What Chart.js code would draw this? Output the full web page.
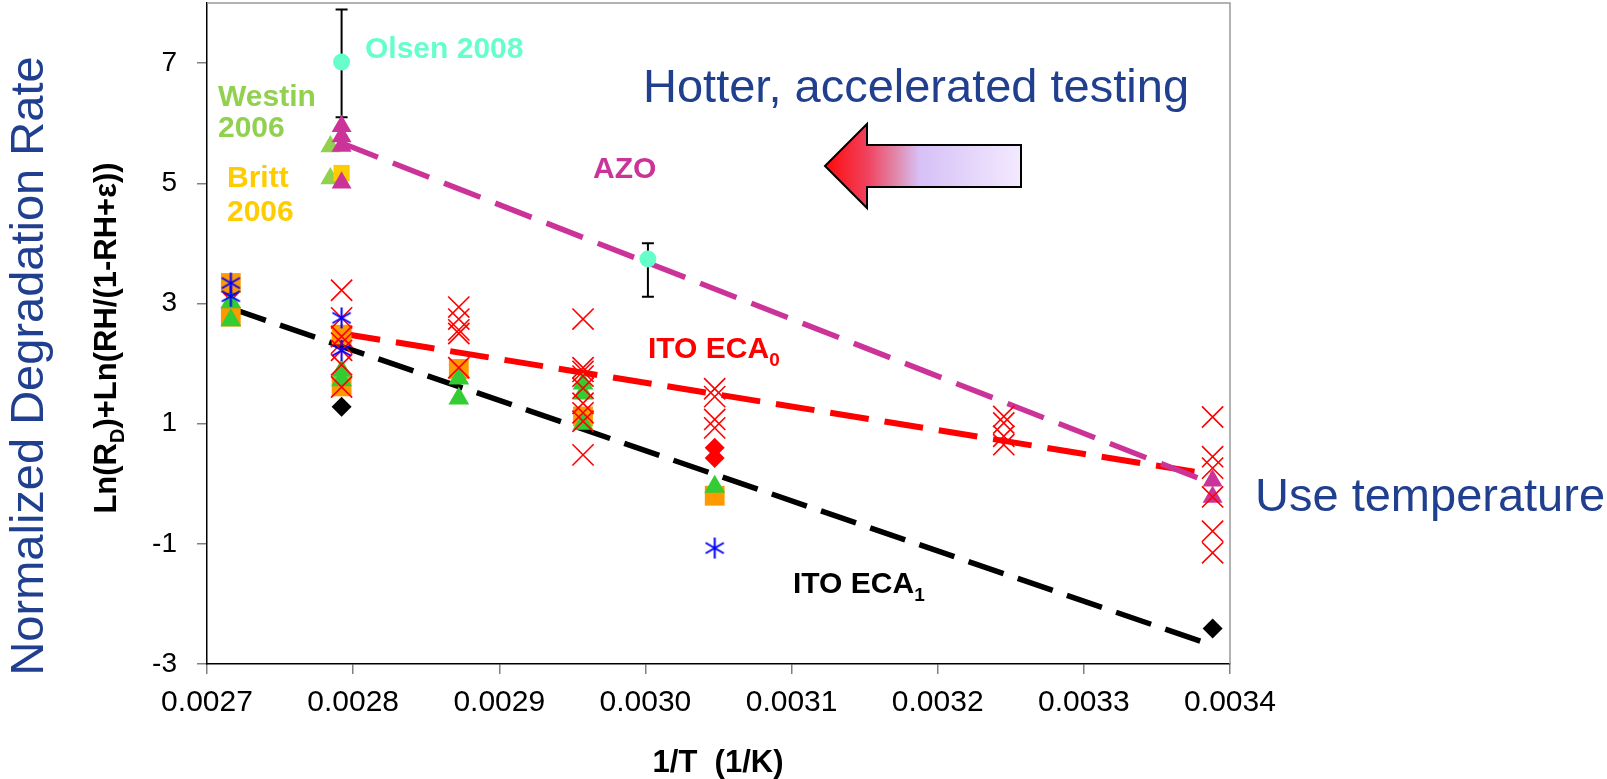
<!DOCTYPE html>
<html>
<head>
<meta charset="utf-8">
<title>Normalized degradation rate vs 1/T</title>
<script src="https://cdn.jsdelivr.net/npm/chart.js@4.4.0/dist/chart.umd.min.js"></script>
<style>
  html, body { margin: 0; padding: 0; background: #fff; }
  canvas { display: block; }
</style>
</head>
<body>
<canvas id="arrheniusChart" width="1607" height="779"></canvas>
<script>
// 1/T of the test temperatures (95, 85, 75, 65, 55, 35, 22 C)
const tempX = [0.0027163, 0.0027921, 0.0028723, 0.0029573, 0.0030474, 0.0032452, 0.0033881];

// one list of values per temperature above
const itoCross = [
  [],
  [3.22, 2.76, 2.45, 2.34, 2.22, 1.98, 1.61],
  [2.94, 2.74, 2.56, 2.50, 1.93],
  [2.74, 1.93, 1.87, 1.79, 1.59, 1.34, 1.18, 1.04, 0.48],
  [1.58, 1.45, 1.07, 0.93],
  [1.12, 1.01, 0.79, 0.65],
  [1.11, 0.45, 0.26, -0.22, -0.79, -1.15]
];
const blueStar = [[3.34, 3.12], [2.76, 2.22], [], [], [-1.07], [], []];
const orangeSquare = [[3.34, 2.78], [2.48, 1.62], [1.91], [1.12], [-0.20], [], []];
const greenTriangle = [[3.02, 2.72], [1.88, 1.72], [1.75, 1.42], [1.67, 1.50, 1.00], [-0.05], [], []];
const redDiamond = [[3.20], [], [], [], [0.60, 0.43], [], []];
const blackDiamond = [[], [1.28], [], [], [], [], [-2.41]];
const azoTriangle = [[], [5.95, 5.78, 5.62, 5.01], [], [], [], [], [0.05, -0.22]];

// Olsen 2008, with error bars
const olsenX = [0.0027921, 0.0030017];
const olsenY = [7.02, 3.74];
const olsenLow = [6.10, 3.11];
const olsenHigh = [7.89, 4.00];

// Westin 2006, Britt 2006
const westinX = [0.0027844, 0.0027844];
const westinY = [5.61, 5.08];
const brittX = [0.0027921];
const brittY = [5.17];

// trend lines
const azoFitX = [0.0027921, 0.0033881];
const azoFitY = [5.67, 0.00];
const eca0FitX = [0.0027921, 0.0033881];
const eca0FitY = [2.50, 0.15];
const eca1FitX = [0.0027163, 0.0033881];
const eca1FitY = [2.92, -2.69];

const xTicks = [0.0027, 0.0028, 0.0029, 0.0030, 0.0031, 0.0032, 0.0033, 0.0034];
const yTicks = [-3, -1, 1, 3, 5, 7];

const FONT = '"Liberation Sans", Arial, Helvetica, sans-serif';
const BLUE = '#213f8f';

function byTemp(groups) {
  const pts = [];
  groups.forEach((ys, i) => ys.forEach(y => pts.push({ x: tempX[i], y: y })));
  return pts;
}

function pairs(xs, ys) {
  return xs.map((x, i) => ({ x: x, y: ys[i] }));
}

// six-armed asterisk marker
function makeAsterisk(size, color) {
  const c = document.createElement('canvas');
  c.width = size;
  c.height = size;
  const g = c.getContext('2d');
  const m = size / 2, r = size / 2 - 1;
  g.strokeStyle = color;
  g.lineWidth = 2;
  g.beginPath();
  for (let k = 0; k < 3; k++) {
    const a = Math.PI / 2 + k * Math.PI / 3;
    g.moveTo(m - r * Math.cos(a), m - r * Math.sin(a));
    g.lineTo(m + r * Math.cos(a), m + r * Math.sin(a));
  }
  g.stroke();
  return c;
}

// text made of [string, isSubscript] parts
function drawParts(ctx, parts, x, y, size, weight, color, align) {
  ctx.save();
  ctx.fillStyle = color;
  ctx.textBaseline = 'alphabetic';
  ctx.textAlign = 'left';
  const fonts = parts.map(p => weight + ' ' + (p[1] ? Math.round(size * 0.64) : size) + 'px ' + FONT);
  let total = 0;
  const widths = parts.map((p, i) => {
    ctx.font = fonts[i];
    const w = ctx.measureText(p[0]).width;
    total += w;
    return w;
  });
  let cx = align === 'center' ? x - total / 2 : x;
  parts.forEach((p, i) => {
    ctx.font = fonts[i];
    ctx.fillText(p[0], cx, y + (p[1] ? size * 0.27 : 0));
    cx += widths[i];
  });
  ctx.restore();
}

function drawRotated(ctx, parts, x, y, size, weight, color) {
  ctx.save();
  ctx.translate(x, y);
  ctx.rotate(-Math.PI / 2);
  drawParts(ctx, parts, 0, 0, size, weight, color, 'center');
  ctx.restore();
}

function drawArrow(ctx) {
  const tipX = 825, tipY = 166, headX = 867, headTop = 124, headBot = 208;
  const shaftTop = 145, shaftBot = 187, endX = 1021;
  const grad = ctx.createLinearGradient(tipX, 0, endX, 0);
  grad.addColorStop(0, '#ff0a0a');
  grad.addColorStop(0.22, '#f0435f');
  grad.addColorStop(0.38, '#e090b4');
  grad.addColorStop(0.48, '#d6c0f6');
  grad.addColorStop(1, '#f3eaff');
  ctx.save();
  ctx.beginPath();
  ctx.moveTo(tipX, tipY);
  ctx.lineTo(headX, headTop);
  ctx.lineTo(headX, shaftTop);
  ctx.lineTo(endX, shaftTop);
  ctx.lineTo(endX, shaftBot);
  ctx.lineTo(headX, shaftBot);
  ctx.lineTo(headX, headBot);
  ctx.closePath();
  ctx.fillStyle = grad;
  ctx.fill();
  ctx.lineWidth = 2;
  ctx.strokeStyle = '#000';
  ctx.stroke();
  ctx.restore();
}

const decorPlugin = {
  id: 'decor',
  beforeDatasetsDraw(chart) {
    const ctx = chart.ctx;
    const area = chart.chartArea;
    const xs = chart.scales.x, ys = chart.scales.y;

    // grey frame on top and right
    ctx.save();
    ctx.strokeStyle = '#999';
    ctx.lineWidth = 1.5;
    ctx.beginPath();
    ctx.moveTo(area.left, area.top);
    ctx.lineTo(area.right, area.top);
    ctx.lineTo(area.right, area.bottom);
    ctx.stroke();

    // Olsen error bars
    ctx.strokeStyle = '#000';
    ctx.lineWidth = 2;
    ctx.beginPath();
    olsenX.forEach((x, i) => {
      const px = xs.getPixelForValue(x);
      const lo = ys.getPixelForValue(olsenLow[i]);
      const hi = ys.getPixelForValue(olsenHigh[i]);
      ctx.moveTo(px, lo);
      ctx.lineTo(px, hi);
      ctx.moveTo(px - 6, lo);
      ctx.lineTo(px + 6, lo);
      ctx.moveTo(px - 6, hi);
      ctx.lineTo(px + 6, hi);
    });
    ctx.stroke();
    ctx.restore();
  },
  afterDraw(chart) {
    const ctx = chart.ctx;
    drawArrow(ctx);

    drawParts(ctx, [['Olsen 2008']], 365, 58, 30, 'bold', '#66ffcc');
    drawParts(ctx, [['Westin']], 218, 106, 30, 'bold', '#92d050');
    drawParts(ctx, [['2006']], 218, 137, 30, 'bold', '#92d050');
    drawParts(ctx, [['Britt']], 227, 187, 30, 'bold', '#ffcc00');
    drawParts(ctx, [['2006']], 227, 221, 30, 'bold', '#ffcc00');
    drawParts(ctx, [['AZO']], 593, 178, 30, 'bold', '#cc3399');
    drawParts(ctx, [['ITO ECA'], ['0', true]], 648, 358, 30, 'bold', '#ff0000');
    drawParts(ctx, [['ITO ECA'], ['1', true]], 793, 593, 30, 'bold', '#000000');

    drawParts(ctx, [['Hotter, accelerated testing']], 643, 102, 47, 'normal', BLUE);
    drawParts(ctx, [['Use temperature']], 1255, 511, 47, 'normal', BLUE);
    drawRotated(ctx, [['Normalized Degradation Rate']], 43, 366, 47, 'normal', BLUE);

    drawRotated(ctx, [['Ln(R'], ['D', true], [')+Ln(RH/(1-RH+\u03b5))']], 116, 338, 31, 'bold', '#000');
    drawParts(ctx, [['1/T  (1/K)']], 718, 772, 31, 'bold', '#000', 'center');
  }
};

const markerBase = { type: 'scatter', showLine: false, pointBorderWidth: 0 };

const datasets = [
  Object.assign({}, markerBase, {
    label: 'asterisk', data: byTemp(blueStar), order: 1,
    pointStyle: makeAsterisk(23, '#0000ff'), pointRadius: 10
  }),
  Object.assign({}, markerBase, {
    label: 'ITO ECA0 cross', data: byTemp(itoCross), order: 2,
    pointStyle: 'crossRot', pointRadius: 15, pointBorderWidth: 1.6,
    pointBorderColor: '#ff0000', pointBackgroundColor: '#ff0000'
  }),
  Object.assign({}, markerBase, {
    label: 'triangle', data: byTemp(greenTriangle), order: 3,
    pointStyle: 'triangle', pointRadius: 12, pointBackgroundColor: '#33cc33'
  }),
  Object.assign({}, markerBase, {
    label: 'square', data: byTemp(orangeSquare), order: 4,
    pointStyle: 'rect', pointRadius: 14, pointBackgroundColor: '#ff9900'
  }),
  Object.assign({}, markerBase, {
    label: 'red diamond', data: byTemp(redDiamond), order: 5,
    pointStyle: 'rectRot', pointRadius: 10, pointBackgroundColor: '#ff0000'
  }),
  Object.assign({}, markerBase, {
    label: 'black diamond', data: byTemp(blackDiamond), order: 6,
    pointStyle: 'rectRot', pointRadius: 10, pointBackgroundColor: '#000000'
  }),
  Object.assign({}, markerBase, {
    label: 'AZO', data: byTemp(azoTriangle), order: 7,
    pointStyle: 'triangle', pointRadius: 11.5, pointBackgroundColor: '#cc3399'
  }),
  Object.assign({}, markerBase, {
    label: 'Britt 2006', data: pairs(brittX, brittY), order: 8,
    pointStyle: 'rect', pointRadius: 11.5, pointBackgroundColor: '#ffcc00'
  }),
  Object.assign({}, markerBase, {
    label: 'Olsen 2008', data: pairs(olsenX, olsenY), order: 9,
    pointStyle: 'circle', pointRadius: 8.5, pointBackgroundColor: '#66ffcc'
  }),
  Object.assign({}, markerBase, {
    label: 'Westin 2006', data: pairs(westinX, westinY), order: 10,
    pointStyle: 'triangle', pointRadius: 11.5, pointBackgroundColor: '#92d050'
  }),
  {
    type: 'line', label: 'AZO fit', data: pairs(azoFitX, azoFitY), order: 20,
    borderColor: '#cc3399', borderWidth: 5.5, borderDash: [39, 16], pointRadius: 0, fill: false
  },
  {
    type: 'line', label: 'ITO ECA0 fit', data: pairs(eca0FitX, eca0FitY), order: 21,
    borderColor: '#ff0000', borderWidth: 6, borderDash: [39, 16], pointRadius: 0, fill: false
  },
  {
    type: 'line', label: 'ITO ECA1 fit', data: pairs(eca1FitX, eca1FitY), order: 22,
    borderColor: '#000000', borderWidth: 5.5, borderDash: [37, 15], pointRadius: 0, fill: false
  }
];

const ctx = document.getElementById('arrheniusChart').getContext('2d');
new Chart(ctx, {
  type: 'scatter',
  data: { datasets: datasets },
  options: {
    responsive: false,
    animation: false,
    events: [],
    layout: { autoPadding: false, padding: { top: 3, right: 377, left: 0, bottom: 0 } },
    plugins: {
      legend: { display: false },
      tooltip: { enabled: false }
    },
    scales: {
      x: {
        type: 'linear',
        min: 0.0027,
        max: 0.0034,
        afterBuildTicks: s => { s.ticks = xTicks.map(v => ({ value: v })); },
        afterFit: s => {
          s.height = 115;
          s.paddingLeft = 0;
          s.paddingRight = 0;
        },
        ticks: {
          color: '#000',
          padding: 11,
          maxRotation: 0,
          font: { family: FONT, size: 30 },
          callback: v => Number(v).toFixed(4)
        },
        grid: { drawOnChartArea: false, tickLength: 10, color: '#808080', lineWidth: 1.5 },
        border: { color: '#000', width: 1.5 }
      },
      y: {
        min: -3,
        max: 8,
        afterBuildTicks: s => { s.ticks = yTicks.map(v => ({ value: v })); },
        afterFit: s => {
          s.width = 207;
          s.paddingTop = 0;
          s.paddingBottom = 0;
        },
        ticks: {
          color: '#000',
          padding: 20,
          font: { family: FONT, size: 28 }
        },
        grid: { drawOnChartArea: false, tickLength: 10, color: '#808080', lineWidth: 1.5 },
        border: { color: '#000', width: 1.5 }
      }
    }
  },
  plugins: [decorPlugin]
});
</script>
</body>
</html>
